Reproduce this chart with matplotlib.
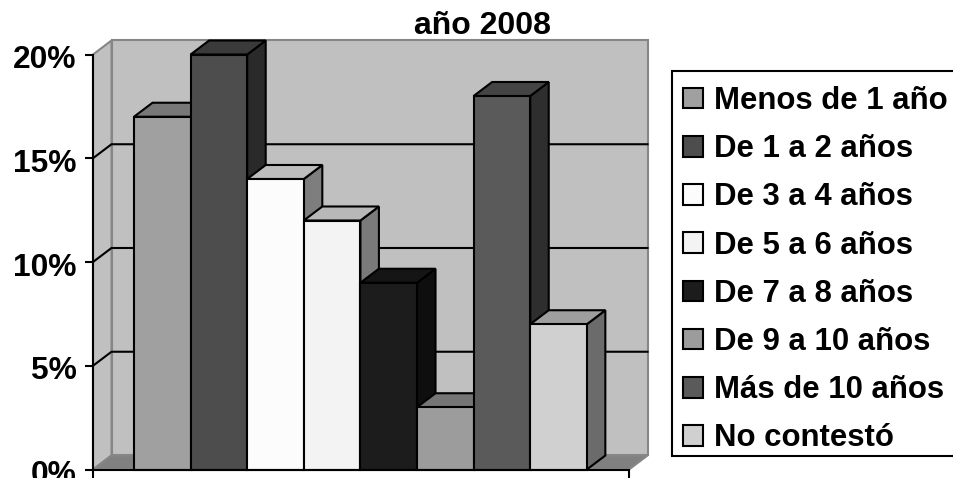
import matplotlib
matplotlib.use("Agg")
import matplotlib.pyplot as plt
from matplotlib.patches import Patch, Polygon, Rectangle
from matplotlib.transforms import ScaledTranslation

plt.rcParams["font.family"] = ["Liberation Sans", "DejaVu Sans"]
plt.rcParams["font.weight"] = "bold"

categories = ["Menos de 1 año", "De 1 a 2 años", "De 3 a 4 años", "De 5 a 6 años",
              "De 7 a 8 años", "De 9 a 10 años", "Más de 10 años", "No contestó"]
values = [17, 20, 14, 12, 9, 3, 18, 7]
y_ticks = [0, 5, 10, 15, 20]
y_tick_labels = ["0%", "5%", "10%", "15%", "20%"]
title = "año 2008"

front_colors = ["#a0a0a0", "#4d4d4d", "#fcfcfc", "#f3f3f3", "#1c1c1c", "#9c9c9c", "#5a5a5a", "#d0d0d0"]
top_colors = ["#787878", "#3a3a3a", "#bdbdbd", "#b8b8b8", "#151515", "#757575", "#444444", "#9e9e9e"]
side_colors = ["#606060", "#2a2a2a", "#7e7e7e", "#7a7a7a", "#0e0e0e", "#5e5e5e", "#2e2e2e", "#6b6b6b"]

WALL = "#c0c0c0"
FLOOR = "#808080"
EDGE = "#868686"
LW = 1.5

# The oblique depth of the 3D look, in data units of each axis
DX = 0.327
DY = 0.675
XMIN, XMAX = -0.724, 8.745
BAR_W = 1.0

fig = plt.figure(figsize=(9.54, 4.78), dpi=100, facecolor="white")
ax = fig.add_axes([93 / 954, (478 - 469.5) / 478, (629 - 93) / 954, 415 / 478])
ax.set_facecolor("none")
ax.set_xlim(XMIN, XMAX)
ax.set_ylim(0, 20)

TOP = y_ticks[-1]


def face(points, fill, edge="black", z=2, lw=LW):
    ax.add_patch(Polygon(points, closed=True, facecolor=fill, edgecolor=edge,
                         linewidth=lw, joinstyle="miter", clip_on=False, zorder=z))


# Walls and floor
face([(XMIN + DX, DY), (XMAX + DX, DY), (XMAX + DX, TOP + DY), (XMIN + DX, TOP + DY)], WALL, EDGE, 1)
face([(XMIN, 0), (XMIN + DX, DY), (XMIN + DX, TOP + DY), (XMIN, TOP)], WALL, EDGE, 1)
face([(XMIN, 0), (XMAX, 0), (XMAX + DX, DY), (XMIN + DX, DY)], FLOOR, EDGE, 1)

# Gridlines run across the left wall and then along the back wall
for v in y_ticks[1:-1]:
    ax.plot([XMIN, XMIN + DX, XMAX + DX], [v, v + DY, v + DY], color="black",
            lw=LW, clip_on=False, zorder=1.5, solid_joinstyle="miter")

# Bars, painted left to right so each one overlaps its neighbour's side
for i, v in enumerate(values):
    z = 3 + i
    x0, x1 = i, i + BAR_W
    face([(x1, 0), (x1 + DX, DY), (x1 + DX, v + DY), (x1, v)], side_colors[i], z=z)
    face([(x0, v), (x1, v), (x1 + DX, v + DY), (x0 + DX, v + DY)], top_colors[i], z=z)
    ax.add_patch(Rectangle((x0, 0), BAR_W, v, facecolor=front_colors[i], edgecolor="black",
                           linewidth=LW, clip_on=False, zorder=z))

for s in ("top", "right"):
    ax.spines[s].set_visible(False)
for s in ("left", "bottom"):
    ax.spines[s].set_linewidth(LW)
    ax.spines[s].set_zorder(20)

ax.set_yticks(y_ticks)
ax.set_yticklabels(y_tick_labels, fontsize=22.9, fontweight="bold")
ax.set_xticks([XMIN, XMAX])
ax.set_xticklabels(["", ""])
ax.tick_params(axis="both", length=5.8, width=LW, pad=6)

# Percent labels sit slightly below their ticks
label_shift = ScaledTranslation(0, -2 / 100, fig.dpi_scale_trans)
for lab in ax.get_yticklabels():
    lab.set_transform(lab.get_transform() + label_shift)

fig.text(482 / 954, 1 - 34 / 478, title, ha="center", va="baseline", fontsize=23, fontweight="bold")

# Legend frame: its right side runs past the edge of the figure
fig.add_artist(Rectangle((672 / 954, 1 - 456 / 478), 300 / 954, 385 / 478, transform=fig.transFigure,
                         facecolor="white", edgecolor="black", linewidth=LW))

handles = [Patch(facecolor=c, edgecolor="black", linewidth=LW) for c in front_colors]
fig.legend(handles, categories, loc="upper left", bbox_to_anchor=(683 / 954, 1 - 86 / 478),
           prop={"size": 22.4, "weight": "bold"}, frameon=False, borderpad=0, borderaxespad=0,
           handlelength=0.64, handleheight=0.64, handletextpad=0.354, labelspacing=0.585)

fig.savefig("out.png", dpi=100)
